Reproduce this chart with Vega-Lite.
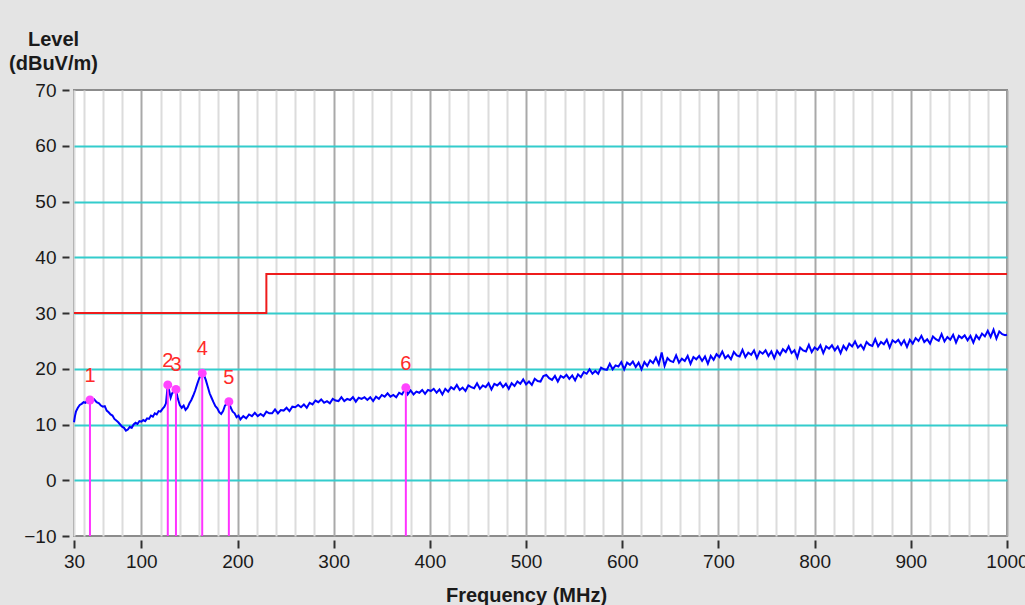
{
  "$schema": "https://vega.github.io/schema/vega-lite/v6.json",
  "autosize": "none",
  "width": 933,
  "height": 446,
  "padding": {"left": 74, "top": 90, "right": 18, "bottom": 69},
  "background": "#e4e4e4",
  "config": {
    "view": {"fill": "#ffffff", "stroke": "#8c8c8c", "strokeWidth": 2},
    "font": "Liberation Sans"
  },
  "datasets": {
    "limit": [
      {"f": 30, "dB": 30},
      {"f": 230, "dB": 30},
      {"f": 230, "dB": 37},
      {"f": 1000, "dB": 37}
    ],
    "markers": [
      {"n": "1", "f": 46.6, "dB": 14.4},
      {"n": "2", "f": 127.5, "dB": 17.1},
      {"n": "3", "f": 136, "dB": 16.3},
      {"n": "4", "f": 163.3, "dB": 19.2},
      {"n": "5", "f": 191, "dB": 14.1},
      {"n": "6", "f": 375, "dB": 16.6}
    ],
    "trace": [
      {"f":30,"dB":10.4},{"f":31,"dB":11.5},{"f":32,"dB":12.3},{"f":34,"dB":13.0},{"f":36,"dB":13.5},{"f":38,"dB":13.7},{"f":40,"dB":14.0},{"f":42,"dB":13.9},{"f":44,"dB":14.3},{"f":46.6,"dB":14.4},{"f":49,"dB":14.2},{"f":51,"dB":14.5},{"f":53.5,"dB":14.0},{"f":56,"dB":13.8},{"f":58,"dB":13.4},{"f":60,"dB":13.2},{"f":62,"dB":13.3},{"f":64,"dB":12.5},{"f":66,"dB":12.2},{"f":68,"dB":11.8},{"f":70,"dB":11.6},{"f":72,"dB":11.0},{"f":74,"dB":10.7},{"f":76,"dB":10.4},{"f":78,"dB":10.0},{"f":80,"dB":9.6},{"f":82,"dB":9.4},{"f":84,"dB":8.9},{"f":86,"dB":9.1},{"f":88,"dB":9.6},{"f":90,"dB":9.4},{"f":92,"dB":10.0},{"f":94,"dB":10.3},{"f":96,"dB":10.1},{"f":98,"dB":10.6},{"f":100,"dB":10.5},{"f":102,"dB":10.8},{"f":104,"dB":10.6},{"f":106,"dB":11.1},{"f":108,"dB":11.0},{"f":110,"dB":11.6},{"f":112,"dB":11.4},{"f":114,"dB":12.0},{"f":116,"dB":11.8},{"f":118,"dB":12.4},{"f":120,"dB":12.3},{"f":122,"dB":12.8},{"f":124,"dB":13.2},{"f":125.6,"dB":13.8},{"f":127.5,"dB":17.1},{"f":129,"dB":16.0},{"f":130.5,"dB":14.8},{"f":132,"dB":15.6},{"f":134,"dB":15.9},{"f":136,"dB":16.3},{"f":138,"dB":14.6},{"f":140,"dB":13.5},{"f":142,"dB":13.0},{"f":144,"dB":13.4},{"f":146,"dB":12.6},{"f":148,"dB":13.0},{"f":150,"dB":13.8},{"f":152,"dB":14.4},{"f":154,"dB":15.2},{"f":156,"dB":16.1},{"f":158,"dB":17.2},{"f":160,"dB":18.2},{"f":162,"dB":19.0},{"f":163.3,"dB":19.2},{"f":165,"dB":18.9},{"f":167,"dB":18.0},{"f":169,"dB":16.8},{"f":171,"dB":15.6},{"f":173,"dB":14.8},{"f":175,"dB":14.0},{"f":177,"dB":13.3},{"f":179,"dB":12.9},{"f":181,"dB":12.2},{"f":183,"dB":11.9},{"f":185,"dB":12.4},{"f":187,"dB":13.4},{"f":189,"dB":13.7},{"f":191,"dB":14.1},{"f":193,"dB":13.0},{"f":195,"dB":12.3},{"f":197,"dB":12.0},{"f":199,"dB":11.3},{"f":201,"dB":11.6},{"f":203,"dB":10.9},
      {"f":206,"dB":11.5},{"f":209,"dB":11.1},{"f":212,"dB":11.8},{"f":215,"dB":11.5},{"f":218,"dB":12.1},{"f":221,"dB":11.5},{"f":224,"dB":11.9},{"f":227,"dB":11.5},{"f":230,"dB":12.3},{"f":233,"dB":12.0},{"f":236,"dB":12.0},{"f":239,"dB":12.7},
      {"f":242,"dB":12.0},{"f":245,"dB":12.6},{"f":248,"dB":12.5},{"f":251,"dB":13.0},{"f":254,"dB":12.4},{"f":257,"dB":13.2},{"f":260,"dB":13.1},{"f":263,"dB":13.5},{"f":266,"dB":13.1},{"f":269,"dB":13.6},{"f":272,"dB":13.0},{"f":275,"dB":13.9},{"f":278,"dB":13.6},
      {"f":281,"dB":14.3},{"f":284,"dB":14.0},{"f":287,"dB":14.5},{"f":290,"dB":13.9},{"f":293,"dB":14.2},{"f":296,"dB":13.8},{"f":299,"dB":14.6},{"f":302,"dB":14.3},{"f":305,"dB":14.2},{"f":308,"dB":14.9},{"f":311,"dB":14.2},{"f":314,"dB":14.6},{"f":317,"dB":14.4},{"f":320,"dB":14.9},{"f":323,"dB":14.1},{"f":326,"dB":14.8},{"f":329,"dB":14.6},{"f":332,"dB":14.9},{"f":335,"dB":14.4},{"f":338,"dB":14.9},
      {"f":341,"dB":14.2},{"f":344,"dB":15.0},{"f":347,"dB":14.6},{"f":350,"dB":15.3},{"f":353,"dB":15.0},{"f":356,"dB":15.6},{"f":359,"dB":15.0},{"f":362,"dB":15.3},{"f":365,"dB":14.9},{"f":368,"dB":15.7},{"f":371,"dB":15.4},{"f":375,"dB":16.6},{"f":377,"dB":15.4},{"f":380,"dB":16.1},{"f":383,"dB":15.4},{"f":386,"dB":15.9},{"f":389,"dB":15.7},{"f":392,"dB":16.2},{"f":395,"dB":15.5},{"f":398,"dB":16.2},
      {"f":401,"dB":16.0},{"f":404,"dB":16.4},{"f":407,"dB":15.7},{"f":410,"dB":16.3},{"f":413,"dB":15.4},{"f":416,"dB":16.4},{"f":419,"dB":15.9},{"f":422,"dB":16.7},{"f":425,"dB":16.3},{"f":428,"dB":17.1},{"f":431,"dB":16.2},{"f":434,"dB":16.6},{"f":437,"dB":16.0},{"f":440,"dB":17.0},{"f":443,"dB":16.7},{"f":446,"dB":16.5},{"f":449,"dB":17.4},{"f":452,"dB":16.4},{"f":455,"dB":17.0},{"f":458,"dB":16.7},{"f":461,"dB":17.4},{"f":464,"dB":16.3},{"f":467,"dB":17.3},{"f":470,"dB":17.0},{"f":473,"dB":17.5},{"f":476,"dB":16.7},{"f":479,"dB":17.3},{"f":482,"dB":16.4},{"f":485,"dB":17.4},{"f":488,"dB":16.9},{"f":491,"dB":17.7},{"f":494,"dB":17.3},{"f":497,"dB":18.1},{"f":500,"dB":17.2},
      {"f":503,"dB":17.7},{"f":506,"dB":17.1},{"f":509,"dB":18.2},{"f":512,"dB":17.8},{"f":515,"dB":17.7},{"f":518,"dB":18.7},{"f":521,"dB":18.9},{"f":524,"dB":18.3},{"f":527,"dB":18.0},{"f":530,"dB":18.7},{"f":533,"dB":17.7},{"f":536,"dB":18.7},{"f":539,"dB":18.4},{"f":542,"dB":18.9},{"f":545,"dB":18.2},{"f":548,"dB":18.8},{"f":551,"dB":17.9},{"f":554,"dB":19.0},{"f":557,"dB":18.5},{"f":560,"dB":19.4},{"f":563,"dB":19.1},{"f":566,"dB":19.9},{"f":569,"dB":19.1},{"f":572,"dB":19.6},{"f":575,"dB":19.1},{"f":578,"dB":20.2},{"f":581,"dB":19.9},{"f":584,"dB":19.8},{"f":587,"dB":20.9},{"f":590,"dB":19.9},{"f":593,"dB":20.6},{"f":596,"dB":20.4},{"f":599,"dB":21.2},
      {"f":602,"dB":19.9},{"f":605,"dB":21.1},{"f":608,"dB":20.7},{"f":611,"dB":21.3},{"f":614,"dB":20.3},{"f":617,"dB":21.1},{"f":620,"dB":19.9},{"f":623,"dB":21.2},{"f":626,"dB":20.5},{"f":629,"dB":21.5},{"f":632,"dB":21.0},{"f":635,"dB":22.0},{"f":638,"dB":20.8},{"f":641,"dB":22.9},{"f":644,"dB":20.5},{"f":647,"dB":21.9},{"f":650,"dB":21.4},{"f":653,"dB":21.2},{"f":656,"dB":22.4},{"f":659,"dB":21.1},{"f":662,"dB":21.8},{"f":665,"dB":21.4},{"f":668,"dB":22.3},{"f":671,"dB":20.9},{"f":674,"dB":22.1},{"f":677,"dB":21.7},{"f":680,"dB":22.3},{"f":683,"dB":21.4},{"f":686,"dB":22.2},{"f":689,"dB":20.9},{"f":692,"dB":22.3},{"f":695,"dB":21.6},{"f":698,"dB":22.6},
      {"f":701,"dB":22.1},{"f":704,"dB":23.1},{"f":707,"dB":21.9},{"f":710,"dB":22.4},{"f":713,"dB":21.7},{"f":716,"dB":23.0},{"f":719,"dB":22.4},{"f":722,"dB":22.2},{"f":725,"dB":23.4},{"f":728,"dB":22.1},{"f":731,"dB":22.9},{"f":734,"dB":22.5},{"f":737,"dB":23.3},{"f":740,"dB":21.9},{"f":743,"dB":23.1},{"f":746,"dB":22.7},{"f":749,"dB":23.3},{"f":752,"dB":22.3},{"f":755,"dB":23.1},{"f":758,"dB":21.9},{"f":761,"dB":23.2},{"f":764,"dB":22.5},{"f":767,"dB":23.5},{"f":770,"dB":23.0},{"f":773,"dB":24.0},{"f":776,"dB":22.8},{"f":779,"dB":23.3},{"f":782,"dB":22.0},{"f":785,"dB":23.8},{"f":788,"dB":23.3},{"f":791,"dB":23.1},{"f":794,"dB":24.3},{"f":797,"dB":23.0},{"f":800,"dB":23.8},
      {"f":803,"dB":23.4},{"f":806,"dB":24.2},{"f":809,"dB":22.8},{"f":812,"dB":24.0},{"f":815,"dB":23.6},{"f":818,"dB":24.2},{"f":821,"dB":23.3},{"f":824,"dB":24.0},{"f":827,"dB":22.8},{"f":830,"dB":24.1},{"f":833,"dB":23.4},{"f":836,"dB":24.5},{"f":839,"dB":24.0},{"f":842,"dB":24.9},{"f":845,"dB":23.8},{"f":848,"dB":24.3},{"f":851,"dB":23.5},{"f":854,"dB":24.8},{"f":857,"dB":24.3},{"f":860,"dB":24.1},{"f":863,"dB":25.3},{"f":866,"dB":24.0},{"f":869,"dB":24.8},{"f":872,"dB":24.4},{"f":875,"dB":25.2},{"f":878,"dB":23.8},{"f":881,"dB":25.1},{"f":884,"dB":24.7},{"f":887,"dB":25.2},{"f":890,"dB":24.3},{"f":893,"dB":25.1},{"f":896,"dB":23.9},{"f":899,"dB":25.2},
      {"f":902,"dB":24.5},{"f":905,"dB":25.5},{"f":908,"dB":25.0},{"f":911,"dB":25.9},{"f":914,"dB":24.8},{"f":917,"dB":25.3},{"f":920,"dB":24.5},{"f":923,"dB":25.8},{"f":926,"dB":25.3},{"f":929,"dB":25.0},{"f":932,"dB":26.2},{"f":935,"dB":24.9},{"f":938,"dB":25.7},{"f":941,"dB":25.2},{"f":944,"dB":26.1},{"f":947,"dB":24.7},{"f":950,"dB":25.9},{"f":953,"dB":25.5},{"f":956,"dB":26.0},{"f":959,"dB":25.1},{"f":962,"dB":25.9},{"f":965,"dB":24.7},{"f":968,"dB":26.0},{"f":971,"dB":25.3},{"f":974,"dB":26.3},{"f":977,"dB":25.8},{"f":980,"dB":26.8},{"f":983,"dB":25.7},{"f":986,"dB":27.0},{"f":989,"dB":25.4},{"f":992,"dB":26.7},{"f":995,"dB":26.2},{"f":998,"dB":26.0},{"f":1000,"dB":26.1}
    ]
  },
  "encoding": {
    "x": {
      "field": "f", "type": "quantitative",
      "scale": {"domain": [30, 1000], "nice": false, "zero": false},
      "axis": {
        "title": "Frequency (MHz)",
        "titleFont": "Liberation Sans", "titleFontSize": 20, "titleFontWeight": "bold", "titleColor": "#1a1a1a",
        "titleX": 452, "titleY": 61, "titleAlign": "center", "titleBaseline": "alphabetic",
        "values": [30,40,60,80,100,120,140,160,180,200,220,240,260,280,300,320,340,360,380,400,420,440,460,480,500,520,540,560,580,600,620,640,660,680,700,720,740,760,780,800,820,840,860,880,900,920,940,960,980,1000],
        "format": "d",
        "labelExpr": "datum.value % 100 === 0 || datum.value === 30 ? datum.label : ''",
        "labelOverlap": false, "labelBound": false, "labelFlush": false,
        "labelFont": "Liberation Sans", "labelFontSize": 19, "labelColor": "#1a1a1a", "labelPadding": 4,
        "domain": false,
        "offset": 4, "tickSize": 8, "tickWidth": 2, "tickColor": "#303030",
        "tickOpacity": {"condition": {"test": "datum.value % 100 === 0 || datum.value === 30", "value": 1}, "value": 0},
        "grid": true, "gridWidth": 2,
        "gridColor": {"condition": {"test": "datum.value % 100 === 0", "value": "#a9a9a9"}, "value": "#dcdcdc"}
      }
    },
    "y": {
      "field": "dB", "type": "quantitative",
      "scale": {"domain": [-10, 70], "nice": false, "zero": false},
      "axis": {
        "title": ["Level", "(dBuV/m)"],
        "titleFont": "Liberation Sans", "titleFontSize": 20, "titleFontWeight": "bold", "titleColor": "#1a1a1a",
        "titleAngle": 0, "titleX": -16, "titleY": -45, "titleAlign": "center", "titleBaseline": "alphabetic", "titleLineHeight": 24,
        "values": [-10, 0, 10, 20, 30, 40, 50, 60, 70],
        "labelFont": "Liberation Sans", "labelFontSize": 19, "labelColor": "#1a1a1a", "labelPadding": 6,
        "domain": false,
        "offset": 5, "tickSize": 7, "tickWidth": 2, "tickColor": "#303030",
        "grid": true, "gridWidth": 2, "gridColor": "#33cccc",
        "gridOpacity": {"condition": {"test": "datum.value === 70 || datum.value === -10", "value": 0}, "value": 1}
      }
    }
  },
  "layer": [
    {
      "data": {"name": "trace"},
      "mark": {"type": "line", "color": "#0000ff", "strokeWidth": 2}
    },
    {
      "data": {"name": "limit"},
      "mark": {"type": "line", "color": "#ee1c1c", "strokeWidth": 2}
    },
    {
      "data": {"name": "markers"},
      "mark": {"type": "rule", "color": "#ff33ff", "strokeWidth": 2},
      "encoding": {"y2": {"datum": -10}}
    },
    {
      "data": {"name": "markers"},
      "mark": {"type": "point", "filled": true, "color": "#ff44ff", "size": 80, "opacity": 1}
    },
    {
      "data": {"name": "markers"},
      "mark": {"type": "text", "color": "#ff2a2a", "font": "Liberation Sans", "fontSize": 20, "dy": -24, "align": "center", "baseline": "middle"},
      "encoding": {"text": {"field": "n"}}
    }
  ]
}
